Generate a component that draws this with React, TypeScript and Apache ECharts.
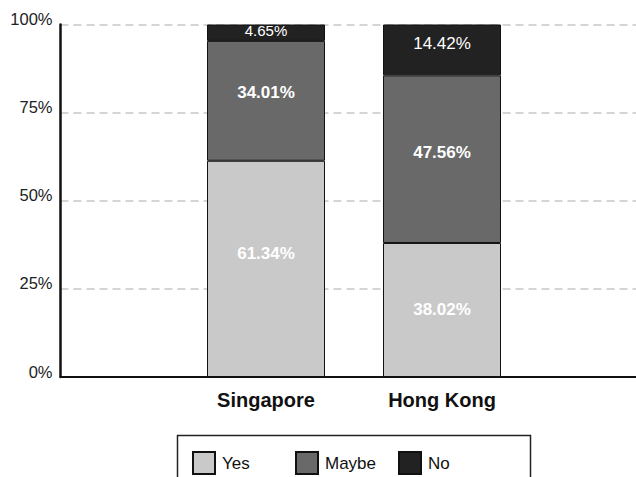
import React, { useEffect, useRef } from "react";
import * as echarts from "echarts";

// ---- data ----
const categories = ["Singapore", "Hong Kong"];
const seriesNames = ["Yes", "Maybe", "No"];
const yesValues = [61.34, 38.02];
const maybeValues = [34.01, 47.56];
const noValues = [4.65, 14.42];
const yTickStep = 25;

// ---- styles ----
const FONT = 'Arial, "Liberation Sans", sans-serif';
const colors = { Yes: "#c9c9c9", Maybe: "#696969", No: "#222222" };
const labelShift: Record<string, number[]> = { Yes: [-15, 0], Maybe: [-8, -7], No: [-2, -6] };
const labelSize: Record<string, number[]> = { Yes: [17, 17], Maybe: [17, 17], No: [15, 17] };
const labelBold: Record<string, boolean> = { Yes: true, Maybe: true, No: false };
const legendLefts = [192, 295, 398];

export default function App() {
  const ref = useRef<HTMLDivElement>(null);
  useEffect(() => {
    if (!ref.current) return;
    const chart = echarts.init(ref.current, null, { renderer: "svg" });
    const valuesByName: Record<string, number[]> = { Yes: yesValues, Maybe: maybeValues, No: noValues };
    const series = seriesNames.map((name) => ({
      type: "bar",
      name,
      stack: "total",
      xAxisIndex: 1,
      yAxisIndex: 1,
      barWidth: 118,
      data: valuesByName[name].map((v, i) => ({
        value: v,
        label: { offset: [0, labelShift[name][i]], fontSize: labelSize[name][i] },
      })),
      itemStyle: { color: (colors as any)[name], borderColor: "#111", borderWidth: 1 },
      label: {
        show: true,
        position: "inside",
        color: "#ffffff",
        fontFamily: FONT,
        fontWeight: labelBold[name] ? "bold" : "normal",
        fontSize: 17,
        formatter: (p: any) => Number(p.value).toFixed(2) + "%",
      },
    }));
    const legends = seriesNames.map((name, i) => ({
      show: true,
      data: [name],
      left: legendLefts[i],
      top: 451,
      orient: "horizontal",
      icon: "rect",
      itemWidth: 22,
      itemHeight: 22,
      selectedMode: false,
      padding: 0,
      textStyle: {
        color: "#111",
        fontFamily: FONT,
        fontSize: 17,
        padding: [0, 0, 0, 2],
      },
    }));
    chart.setOption({
      animation: false,
      backgroundColor: "#ffffff",
      grid: [
        { left: 60.5, right: 0, top: 24.5, bottom: 100, containLabel: false },
        { left: 178, width: 352, top: 24.5, bottom: 100, containLabel: false },
      ],
      xAxis: [
        {
          type: "category",
          gridIndex: 0,
          data: [""],
          axisLine: { show: true, lineStyle: { color: "#111", width: 2 } },
          axisTick: { show: false },
          axisLabel: { show: false },
          splitLine: { show: false },
        },
        {
          type: "category",
          gridIndex: 1,
          data: categories,
          axisLine: { show: false },
          axisTick: { show: false },
          axisLabel: {
            show: true,
            color: "#111",
            fontFamily: FONT,
            fontWeight: "bold",
            fontSize: 20,
            margin: 13,
          },
        },
      ],
      yAxis: [
        {
          type: "value",
          gridIndex: 0,
          min: 0,
          max: 100,
          interval: yTickStep,
          axisLine: { show: true, lineStyle: { color: "#111", width: 2.5 } },
          axisTick: { show: false },
          axisLabel: {
            color: "#222",
            fontFamily: FONT,
            fontSize: 16.5,
            margin: 8,
            verticalAlign: "bottom",
            lineHeight: 11,
            formatter: "{value}%",
          },
          splitLine: {
            show: true,
            lineStyle: { color: "#c8c8c8", width: 1.5, type: [8, 5] },
          },
        },
        {
          type: "value",
          gridIndex: 1,
          min: 0,
          max: 100,
          show: false,
        },
      ],
      legend: legends,
      graphic: [
        {
          type: "rect",
          shape: { x: 177.5, y: 435.5, width: 353, height: 60 },
          style: { fill: "none", stroke: "#222", lineWidth: 1.5 },
          silent: true,
        },
      ],
      series,
    });
    return () => chart.dispose();
  }, []);
  return (
    <div
      ref={ref}
      style={{ position: "fixed", left: 0, top: 0, width: 636, height: 477 }}
    />
  );
}
